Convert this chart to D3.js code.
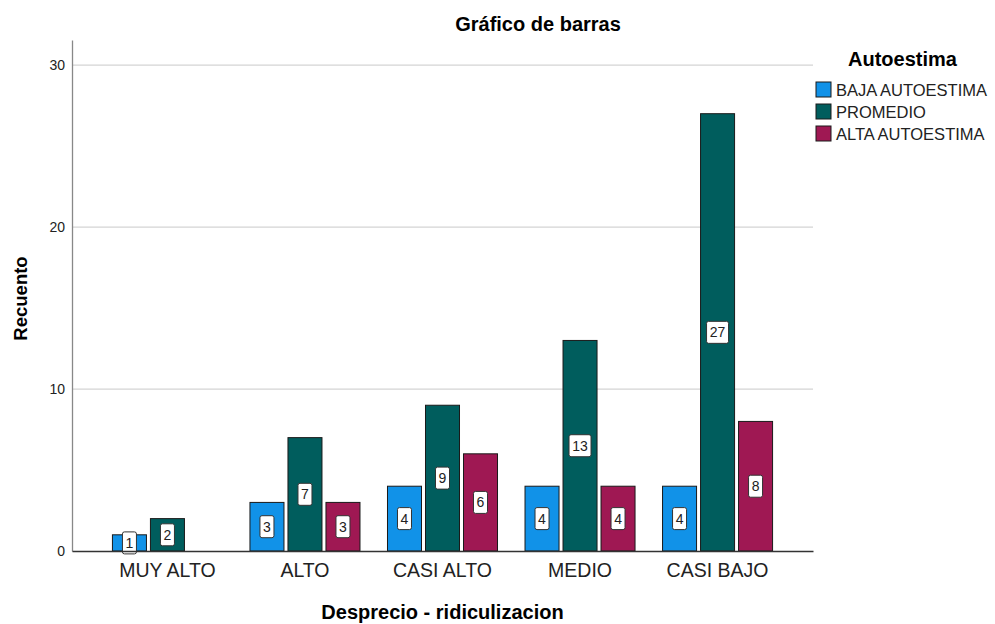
<!DOCTYPE html>
<html>
<head>
<meta charset="utf-8">
<script src="https://cdn.jsdelivr.net/npm/d3@7"></script>
<style>
  body { margin: 0; background: #fff; }
  svg { font-family: "Liberation Sans", Arial, sans-serif; }
</style>
</head>
<body>
<svg id="chart" width="995" height="624"></svg>
<script>
  // categories on the x axis and the three series (counts)
  var categories = ['MUY ALTO', 'ALTO', 'CASI ALTO', 'MEDIO', 'CASI BAJO'];
  var seriesNames = ['BAJA AUTOESTIMA', 'PROMEDIO', 'ALTA AUTOESTIMA'];
  var bajaValues = [1, 3, 4, 4, 4];
  var promedioValues = [2, 7, 9, 13, 27];
  var altaValues = [0, 3, 6, 4, 8];
  var yTicks = [0, 10, 20, 30];

  (function () {
    'use strict';
    var colors = ['#1192e8', '#005d5d', '#9f1853'];
    var seriesValues = [bajaValues, promedioValues, altaValues];

    var svg = d3.select('#chart');
    var plotLeft = 72, plotRight = 813, plotTop = 40, plotBottom = 551;

    var x = d3.scaleBand().domain(categories).range([plotLeft, plotRight])
      .paddingInner(0.2).paddingOuter(0.294);
    var x1 = d3.scaleBand().domain(seriesNames).range([0, x.bandwidth()]).paddingInner(0.105);
    var y = d3.scaleLinear().domain([0, 31.55]).range([plotBottom, plotTop]);

    // gridlines
    svg.append('g').selectAll('line')
      .data(yTicks.filter(function (d) { return d > 0; }))
      .enter().append('line')
      .attr('x1', plotLeft).attr('x2', plotRight)
      .attr('y1', function (d) { return y(d); })
      .attr('y2', function (d) { return y(d); })
      .attr('stroke', '#d4d4d4').attr('stroke-width', 1.3);

    // y axis
    var yAxis = svg.append('g')
      .attr('transform', 'translate(' + plotLeft + ',0)')
      .call(d3.axisLeft(y).tickValues(yTicks).tickSize(0).tickPadding(7).tickSizeOuter(0));
    yAxis.select('.domain').attr('stroke', '#888').attr('stroke-width', 1.3);
    yAxis.selectAll('text').attr('font-size', 14).attr('fill', '#222').attr('font-family', null);

    // bars
    var groups = svg.append('g').selectAll('g')
      .data(categories)
      .enter().append('g')
      .attr('transform', function (d) { return 'translate(' + x(d) + ',0)'; });

    groups.each(function (cat, ci) {
      var g = d3.select(this);
      seriesNames.forEach(function (s, si) {
        var v = seriesValues[si][ci];
        if (!v) return;
        g.append('rect')
          .attr('x', x1(s)).attr('width', x1.bandwidth())
          .attr('y', y(v)).attr('height', y(0) - y(v))
          .attr('fill', colors[si])
          .attr('stroke', '#1a1a1a').attr('stroke-width', 1);
      });
    });

    // x axis
    var xAxis = svg.append('g')
      .attr('transform', 'translate(0,' + plotBottom + ')')
      .call(d3.axisBottom(x).tickSize(0).tickPadding(12).tickSizeOuter(0));
    xAxis.select('.domain').attr('stroke', '#333').attr('stroke-width', 1.3);
    xAxis.selectAll('text').attr('font-size', 19.5).attr('fill', '#222').attr('font-family', null);

    // value labels
    groups.each(function (cat, ci) {
      var g = d3.select(this);
      seriesNames.forEach(function (s, si) {
        var v = seriesValues[si][ci];
        if (!v) return;
        var cx = x1(s) + x1.bandwidth() / 2;
        var cy = y(v / 2);
        var w = String(v).length > 1 ? 22 : 14;
        g.append('rect')
          .attr('x', cx - w / 2).attr('y', cy - 11)
          .attr('width', w).attr('height', 22)
          .attr('rx', 2)
          .attr('fill', '#fff').attr('stroke', '#333').attr('stroke-width', 1);
        g.append('text')
          .attr('x', cx).attr('y', cy + 5)
          .attr('text-anchor', 'middle')
          .attr('font-size', 14).attr('fill', '#222')
          .text(v);
      });
    });

    // titles
    svg.append('text').attr('x', 538).attr('y', 31)
      .attr('text-anchor', 'middle').attr('font-size', 20).attr('font-weight', 'bold')
      .text('Gráfico de barras');
    svg.append('text').attr('x', (plotLeft + plotRight) / 2).attr('y', 619)
      .attr('text-anchor', 'middle').attr('font-size', 20).attr('font-weight', 'bold')
      .text('Desprecio - ridiculizacion');
    svg.append('text')
      .attr('transform', 'translate(27,' + ((plotTop + plotBottom) / 2 + 3) + ') rotate(-90)')
      .attr('text-anchor', 'middle').attr('font-size', 18.5).attr('font-weight', 'bold')
      .text('Recuento');

    // legend
    var legend = svg.append('g').attr('transform', 'translate(816,0)');
    legend.append('text').attr('x', 32).attr('y', 66)
      .attr('font-size', 20).attr('font-weight', 'bold').text('Autoestima');
    seriesNames.forEach(function (s, i) {
      var ly = 82 + i * 22;
      legend.append('rect').attr('x', 0).attr('y', ly).attr('width', 15).attr('height', 15)
        .attr('fill', colors[i]).attr('stroke', '#1a1a1a').attr('stroke-width', 1);
      legend.append('text').attr('x', 20).attr('y', ly + 14)
        .attr('font-size', 16.5).attr('fill', '#222').text(s);
    });
  })();
</script>
</body>
</html>
